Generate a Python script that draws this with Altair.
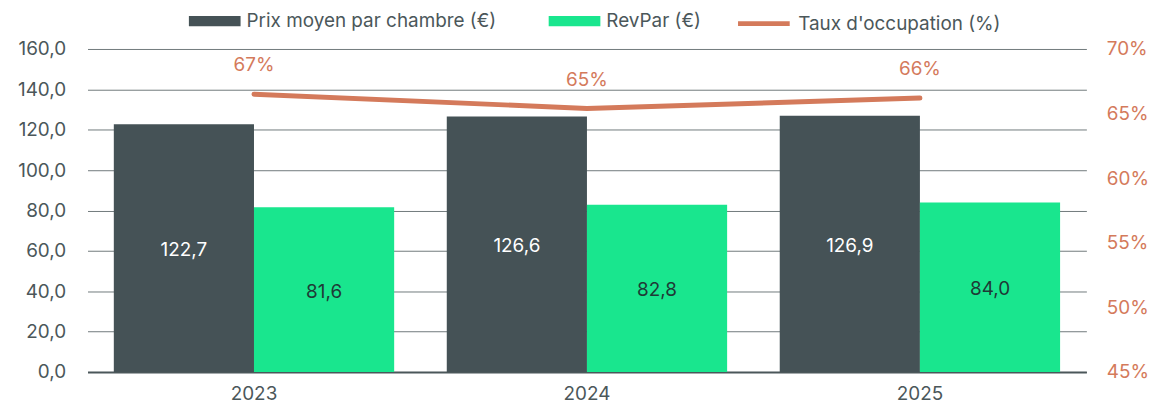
import altair as alt
import pandas as pd

years = ["2023", "2024", "2025"]
prix_moyen = [122.7, 126.6, 126.9]
revpar = [81.6, 82.8, 84.0]
taux = [66.5, 65.4, 66.2]
taux_labels = ["67%", "65%", "66%"]

S1 = "Prix moyen par chambre (€)"
S2 = "RevPar (€)"
S3 = "Taux d'occupation (%)"

DARK = "#455256"
GREEN = "#19E68E"
ORANGE = "#D47A5B"
TXT = "#4B575A"
FONT = "Inter"

bars = pd.DataFrame({
    "annee": years * 2,
    "serie": [S1] * 3 + [S2] * 3,
    "valeur": prix_moyen + revpar,
})
bars["label"] = bars["valeur"].map(lambda v: f"{v:.1f}".replace(".", ","))
line = pd.DataFrame({"annee": years, "taux": taux, "label": taux_labels, "serie": [S3] * 3})

xenc = alt.X("annee:N", title=None,
             scale=alt.Scale(paddingInner=0.158, paddingOuter=0.079),
             axis=alt.Axis(labelAngle=0, ticks=False, domain=True, domainColor="#4B575A",
                           domainWidth=2, labelFontSize=19, labelColor=TXT, labelFont=FONT,
                           labelPadding=13))

bar_color = alt.Color("serie:N", title=None,
                      scale=alt.Scale(domain=[S1, S2], range=[DARK, GREEN]),
                      legend=alt.Legend(orient="none", legendX=102, legendY=-54, direction="horizontal",
                                        symbolSize=2704, symbolType="M-1,-0.2H1V0.2H-1Z",
                                        labelFontSize=19, labelFont=FONT, labelColor=TXT, labelLimit=500,
                                        labelOffset=6, columnPadding=52, symbolStrokeWidth=0))

line_stroke = alt.Stroke("serie:N", title=None,
                         scale=alt.Scale(domain=[S3], range=[ORANGE]),
                         legend=alt.Legend(orient="none", legendX=652, legendY=-54, direction="horizontal",
                                           symbolSize=2704, symbolType="stroke", symbolStrokeWidth=5,
                                           labelFontSize=19, labelFont=FONT, labelColor=TXT, labelLimit=500,
                                           labelOffset=6))

yleft = alt.Y("valeur:Q", title=None,
              scale=alt.Scale(domain=[0, 160], nice=False),
              axis=alt.Axis(values=list(range(0, 161, 20)), labelExpr="replace(format(datum.value, '.1f'), '.', ',')",
                            ticks=False, domain=False, grid=True, gridColor="#717A7C", gridWidth=1,
                            labelFontSize=19, labelColor=TXT, labelFont=FONT, labelPadding=22))

bar_layer = alt.Chart(bars).mark_bar().encode(
    x=xenc, xOffset=alt.XOffset("serie:N", sort=[S1, S2], scale=alt.Scale(paddingInner=0, paddingOuter=0)),
    y=yleft, color=bar_color)

bar_text = alt.Chart(bars).transform_calculate(mid="datum.valeur / 2").mark_text(
    fontSize=19, font=FONT, baseline="middle", dy=2).encode(
    x=xenc, xOffset=alt.XOffset("serie:N", sort=[S1, S2]),
    y=alt.Y("mid:Q", scale=alt.Scale(domain=[0, 160], nice=False), axis=None),
    text="label:N",
    fill=alt.Fill("serie:N", scale=alt.Scale(domain=[S1, S2], range=["#FFFFFF", "#1F3A36"]), legend=None))

yright = alt.Y("taux:Q", title=None, scale=alt.Scale(domain=[45, 70], nice=False),
               axis=alt.Axis(orient="right", values=[45, 50, 55, 60, 65, 70], labelExpr="datum.value + '%'",
                             ticks=False, domain=False, grid=False, labelFontSize=19, labelColor=ORANGE,
                             labelFont=FONT, labelPadding=20))

line_layer = alt.Chart(line).mark_line(strokeWidth=5, strokeCap="round").encode(
    x=xenc, y=yright, stroke=line_stroke)
line_text = alt.Chart(line).mark_text(fontSize=19, font=FONT, dy=-29, color=ORANGE).encode(
    x=xenc, y=alt.Y("taux:Q", scale=alt.Scale(domain=[45, 70], nice=False), axis=None), text="label:N")

chart = alt.layer(bar_layer, bar_text, line_layer, line_text).resolve_scale(
    y="independent", color="independent", fill="independent", stroke="independent").properties(
    width=1005, height=325,
    autosize=alt.AutoSizeParams(type="none"),
    padding={"left": 80, "top": 40, "right": 64, "bottom": 36},
).configure(font=FONT).configure_view(stroke=None)

chart.save("out.html", embed_options={"renderer": "svg", "actions": False})
